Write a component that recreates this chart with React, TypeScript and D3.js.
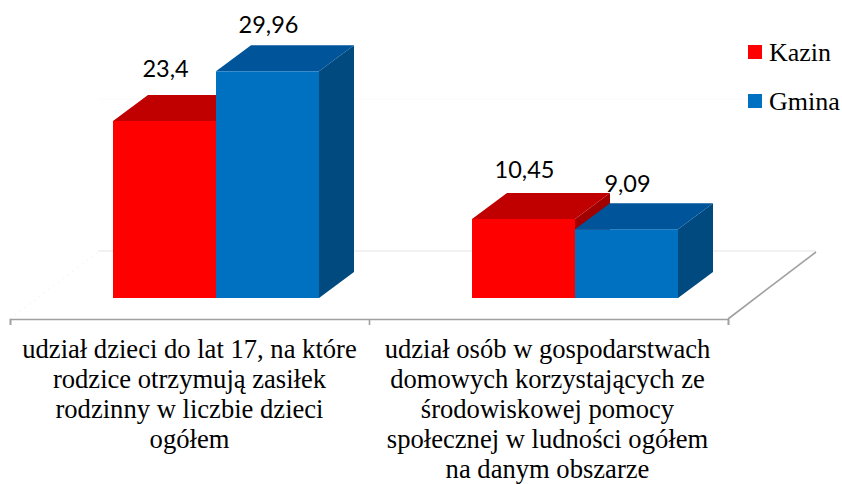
import { useEffect, useRef } from "react";
import * as d3 from "d3";

const categories = [
  ["udział dzieci do lat 17, na które", "rodzice otrzymują zasiłek", "rodzinny w liczbie dzieci", "ogółem"],
  ["udział osób w gospodarstwach", "domowych korzystających ze", "środowiskowej pomocy", "społecznej w ludności ogółem", "na danym obszarze"],
];
const seriesNames = ["Kazin", "Gmina"];
const kazinValues = [23.4, 10.45];
const gminaValues = [29.96, 9.09];
const kazinLabels = ["23,4", "10,45"];
const gminaLabels = ["29,96", "9,09"];
const gridValues = [0, 20];

const width = 842;
const height = 484;
const depthX = 35;
const depthY = 26;
const floorDX = 88;
const floorDY = 67;

const colors = [
  { front: "#ff0000", top: "#c00000", side: "#a00000" },
  { front: "#0070c0", top: "#00559a", side: "#004a80" },
];

// label heights above the bar top differ a bit in the original
const labelLift = [[44, 38], [41, 37]];

export default function App() {
  const svgRef = useRef<SVGSVGElement>(null);

  useEffect(() => {
    const svg = d3.select(svgRef.current);
    svg.selectAll("*").remove();

    const floorX = d3.scaleLinear().domain([0, 2]).range([10, 728]);
    const groupX = d3.scaleBand<number>().domain([0, 1]).range([10, 728]);
    const barX = d3.scaleBand<number>().domain([0, 1]).range([0, 206]);
    const y = d3.scaleLinear().domain([0, 30]).range([298, 71]);
    const gridY = d3.scaleLinear().domain([0, 20]).range([251, 99]);
    const poly = d3.line();

    // floor
    svg.append("path")
      .attr("d", poly([[10, 319], [10 + floorDX, 319 - floorDY]]))
      .attr("stroke", "#f3f3f3").attr("stroke-width", 1).attr("stroke-dasharray", "2 4").attr("fill", "none");
    gridValues.forEach((v, i) => {
      svg.append("line")
        .attr("x1", 98).attr("x2", 816)
        .attr("y1", gridY(v)).attr("y2", gridY(v))
        .attr("stroke", i === 0 ? "#e4e4e4" : "#fafafa");
    });
    svg.append("path")
      .attr("d", poly([[728, 319], [728 + floorDX, 319 - floorDY]]))
      .attr("stroke", "#a0a0a0").attr("stroke-width", 1.6).attr("fill", "none");

    const axis = svg.append("g")
      .attr("transform", "translate(0,319)")
      .call(d3.axisBottom(floorX).tickValues([0, 1, 2]).tickFormat(() => "").tickSize(6));
    axis.selectAll("path,line").attr("stroke", "#a0a0a0").attr("stroke-width", 1.6);

    // bars, red first so blue sits in front of its side
    const series = [kazinValues, gminaValues];
    categories.forEach((_, c) => {
      const x0 = groupX(c)! + groupX.bandwidth() / 2 + 26.5 - 103;
      series.forEach((vals, s) => {
        const left = x0 + barX(s)!;
        const right = left + barX.bandwidth();
        const top = y(vals[c]);
        const base = y(0);
        const g = svg.append("g");
        g.append("path").attr("fill", colors[s].side)
          .attr("d", poly([[right, top], [right + depthX, top - depthY], [right + depthX, base - depthY], [right, base]]) + "Z");
        g.append("path").attr("fill", colors[s].top)
          .attr("d", poly([[left, top], [left + depthX, top - depthY], [right + depthX, top - depthY], [right, top]]) + "Z");
        g.append("rect").attr("x", left).attr("y", top)
          .attr("width", barX.bandwidth()).attr("height", base - top)
          .attr("fill", colors[s].front);
      });
    });

    // data labels
    const labels = [kazinLabels, gminaLabels];
    categories.forEach((_, c) => {
      const x0 = groupX(c)! + groupX.bandwidth() / 2 + 26.5 - 103;
      series.forEach((vals, s) => {
        svg.append("text")
          .attr("x", x0 + barX(s)! + barX.bandwidth() / 2 + 1)
          .attr("y", y(vals[c]) - labelLift[c][s])
          .attr("text-anchor", "middle")
          .attr("font-family", "Lato, 'Open Sans', sans-serif")
          .attr("font-size", 23.5)
          .attr("fill", "#000")
          .text(labels[s][c]);
      });
    });

    // category labels
    categories.forEach((lines, c) => {
      const cx = groupX(c)! + groupX.bandwidth() / 2 - (c === 1 ? 1 : 0);
      lines.forEach((line, i) => {
        svg.append("text")
          .attr("x", cx)
          .attr("y", 357.5 + i * 30.1)
          .attr("text-anchor", "middle")
          .attr("font-family", "'Liberation Serif', serif")
          .attr("font-size", 26.6)
          .attr("fill", "#000")
          .text(line);
      });
    });

    // legend
    const legendY = d3.scaleBand<number>().domain([0, 1]).range([28, 126]);
    seriesNames.forEach((name, s) => {
      const cy = legendY(s)! + legendY.bandwidth() / 2;
      svg.append("rect").attr("x", 748).attr("y", cy - 7.5).attr("width", 14).attr("height", 14)
        .attr("fill", colors[s].front);
      svg.append("text").attr("x", 769).attr("y", cy + 8)
        .attr("font-family", "'Liberation Serif', serif")
        .attr("font-size", 26)
        .attr("fill", "#000")
        .text(name);
    });
  }, []);

  return <svg ref={svgRef} width={width} height={height} style={{ position: "absolute", left: 0, top: 0, background: "#fff" }} />;
}
